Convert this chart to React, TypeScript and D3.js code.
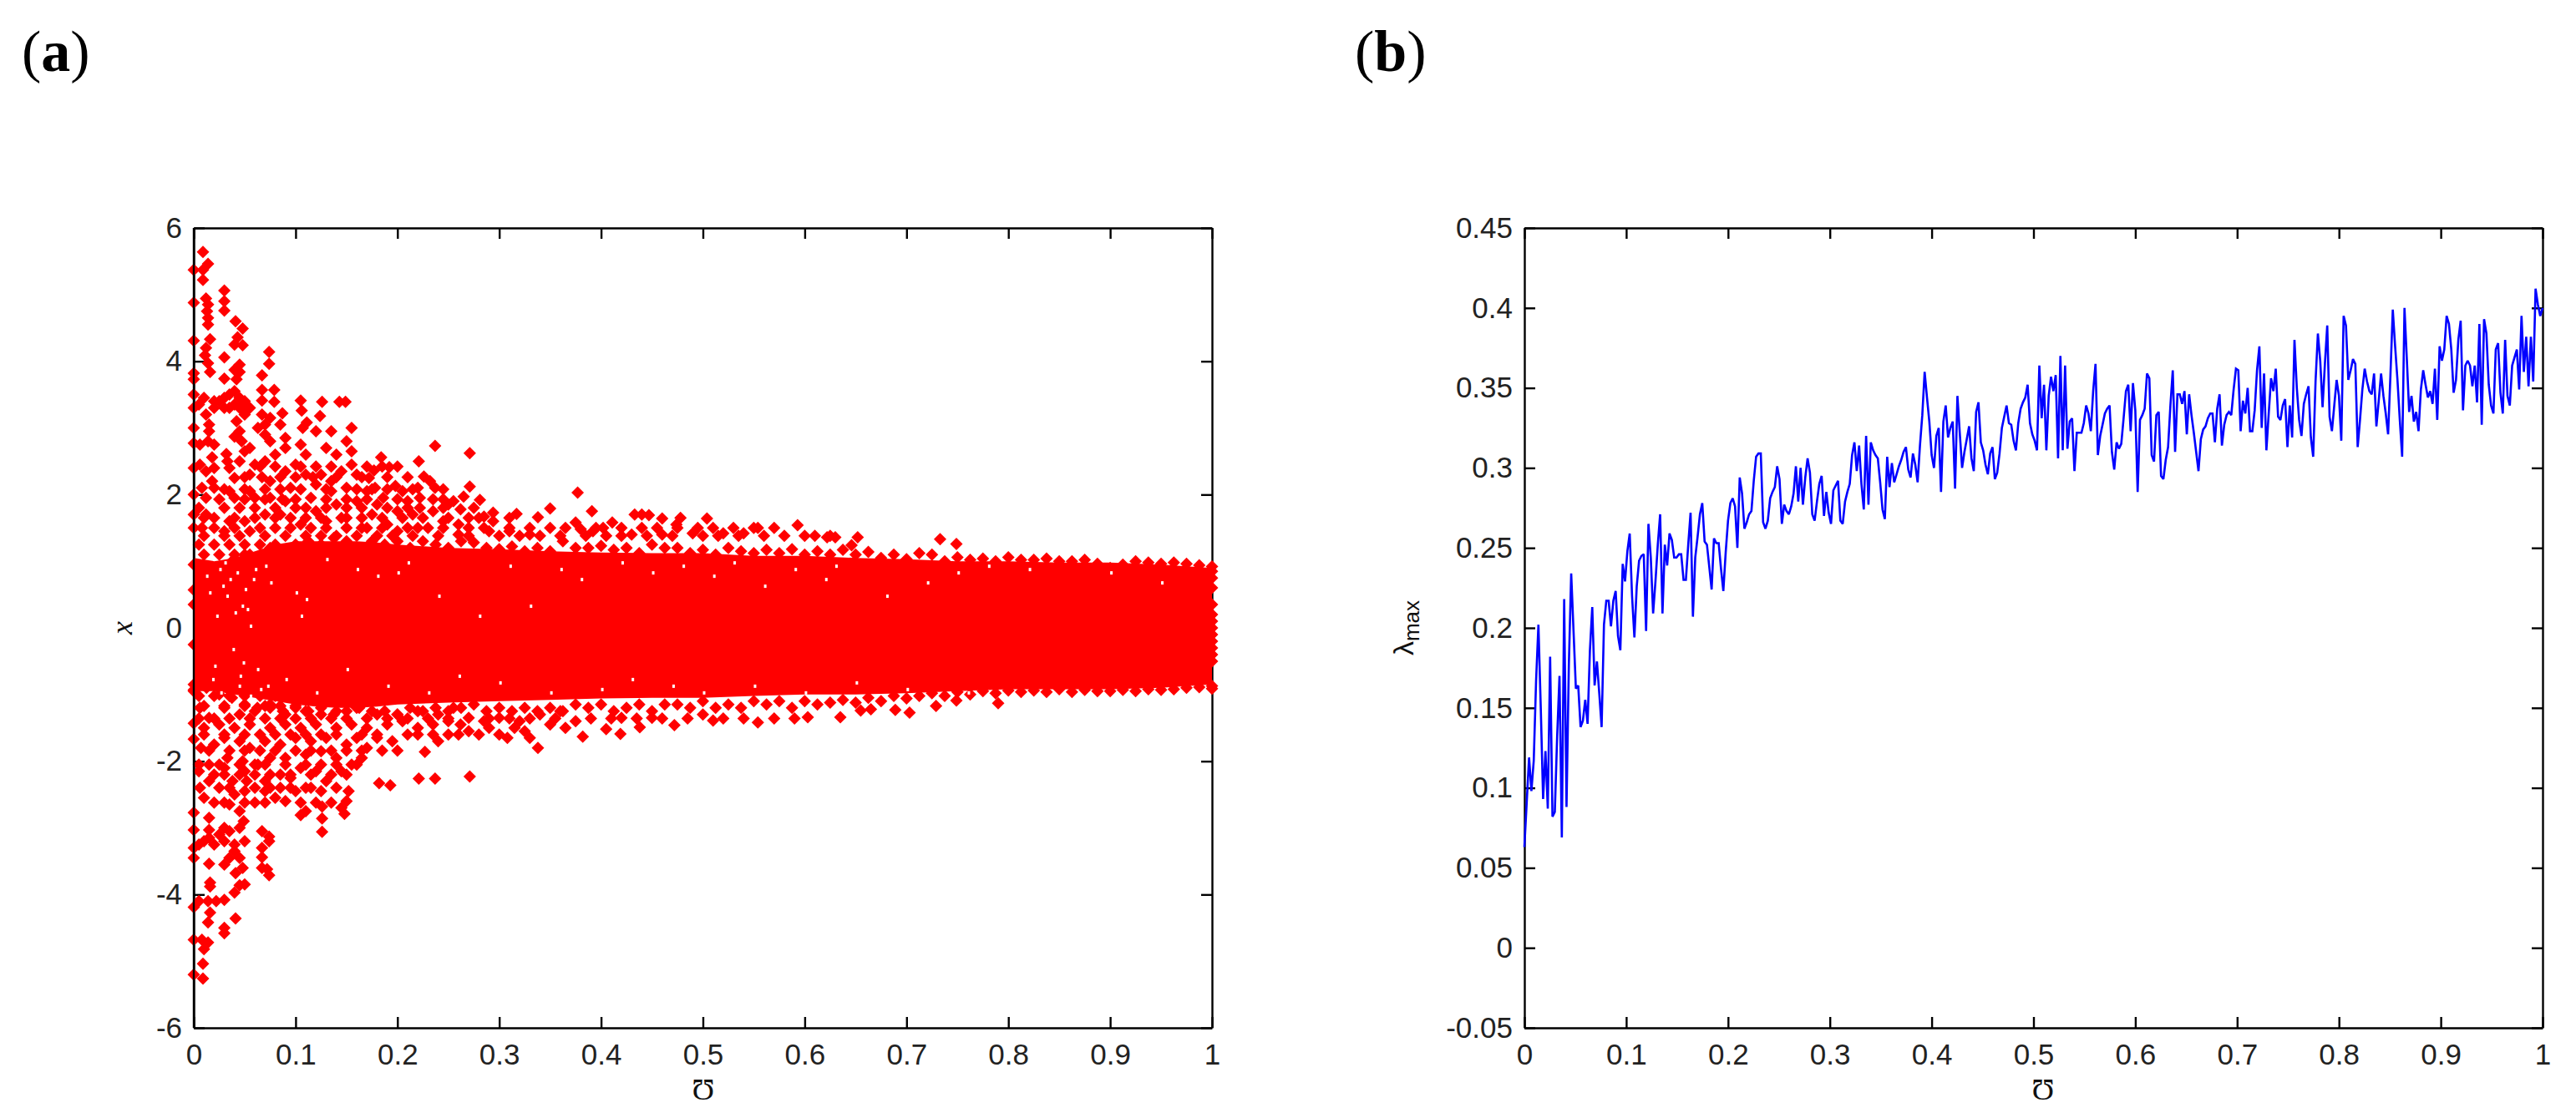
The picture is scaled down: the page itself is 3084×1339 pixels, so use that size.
import React, { useEffect, useRef } from 'react';
import * as d3 from 'd3';

// panel (a): solid middle of the band
const coreX = [0, .02, .04, .06, .08, .1, .12, .14, .16, .18, .2, .25, .3, .35, .4, .45, .5, .55, .6, .65, .7, .75, .8, .85, .9, .95, 1];
const coreUpper = [1.05, 1.0, 1.05, 1.15, 1.25, 1.3, 1.3, 1.3, 1.3, 1.28, 1.25, 1.2, 1.18, 1.15, 1.13, 1.12, 1.12, 1.08, 1.08, 1.05, 1.03, 1.0, 1.0, .98, .98, .95, .9];
const coreLower = [-.95, -.95, -1.0, -1.05, -1.1, -1.15, -1.18, -1.2, -1.2, -1.18, -1.15, -1.12, -1.1, -1.08, -1.06, -1.05, -1.05, -1.02, -1.0, -1.0, -.98, -.95, -.92, -.92, -.92, -.9, -.85];

// markers along the band edge, evenly spread over x
const topEdge = [.95, .85, .9, 1.0, 1.1, 1.05, 1.2, 1.15, 1.25, 1.3, 1.25, 1.35, 1.3, 1.2, 1.3, 1.25, 1.3, 1.2, 1.3, 1.25, 1.2, 1.3, 1.28, 1.2, 1.18, 1.22, 1.15, 1.2, 1.15, 1.3, 1.2, 1.2, 1.23, 1.17, 1.2, 1.12, 1.25, 1.2, 1.2, 1.12, 1.17, 1.1, 1.2, 1.15, 1.12, 1.17, 1.12, 1.18, 1.1, 1.15, 1.1, 1.17, 1.1, 1.14, 1.05, 1.1, 1.03, 1.12, 1.1, 1.0, 1.06, 1.02, 1.04, 1.0, 1.06, 1.02, 1.02, 1.04, 1.0, 1.0, 1.02, .96, .9, .95, 1.0, .98, .96, .98, .96, .94, .92];
const bottomEdge = [-.95, -.9, -1, -1.05, -1.15, -1.2, -1.2, -1.25, -1.2, -1.25, -1.2, -1.3, -1.25, -1.2, -1.25, -1.25, -1.3, -1.2, -1.25, -1.2, -1.25, -1.2, -1.15, -1.25, -1.2, -1.25, -1.2, -1.25, -1.2, -1.25, -1.15, -1.2, -1.15, -1.25, -1.2, -1.15, -1.25, -1.15, -1.15, -1.2, -1.1, -1.2, -1.15, -1.2, -1.1, -1.15, -1.1, -1.2, -1.1, -1.15, -1.12, -1.08, -1.12, -1.05, -1.1, -1.02, -1.06, -1.02, -.98, -1.02, -.96, -1.0, -.95, -.98, -.94, -.96, -.94, -.96, -.92, -.96, -.93, -.95, -.95, -.93, -.95, -.92, -.93, -.92, -.9, -.89, -.87];

const rightColumn = [.85, .75, .6, .35, .2, .1, 0, -.1, -.2, -.3, -.4, -.5, -.91];
const leftColumn = [.57, .35, -.25, -.85, -.93, -1.43, -1.67];

const sparseUpper = [
  [0, 5.37], [.009, 5.37], [.014, 5.46], [.009, 5.64], [.009, 5.22], [.03, 5.06], [.03, 4.9], [.03, 4.76], [0, 4.88], [.012, 4.94], [.014, 4.85], [.013, 4.75], [.014, 4.65], [.014, 4.55],
  [.041, 4.6], [.048, 4.49], [.043, 4.36], [.048, 4.24], [.04, 4.25], [0, 4.31], [.016, 4.33], [.012, 4.2], [.011, 4.09], [.014, 3.97], [.016, 3.84], [.03, 4.06], [.074, 4.14], [.074, 3.96],
  [0, 3.82], [0, 3.73], [.045, 3.95], [.04, 3.87], [.045, 3.84], [.042, 3.73], [.03, 3.74], [.067, 3.79], [.067, 3.57], [.079, 3.57], [.067, 3.41], [.079, 3.39],
  [.105, 3.41], [.126, 3.39], [.143, 3.39], [.149, 3.39], [.106, 3.26], [.124, 3.18], [.111, 3.08], [.087, 3.22],
  [.025, 3.4], [.03, 3.45], [.035, 3.5], [.04, 3.55], [.045, 3.45], [.05, 3.4], [.055, 3.3], [.035, 3.3], [.04, 3.35], [.03, 3.3], [.045, 3.3], [.05, 3.2], [.02, 3.4], [.01, 3.45], [.005, 3.35], [.012, 3.2], [.015, 3.05], [.02, 3.3],
  [0, 3.5], [0, 3.3], [0, 3.0], [0, 2.77], [0, 2.4], [0, 2.0], [0, 1.7], [0, 1.5],
  [.015, 2.95], [.014, 2.8], [.02, 2.75], [.006, 2.75], [.018, 2.56], [.032, 2.61], [.033, 2.5], [.042, 3.1], [.045, 2.95], [.047, 2.8], [.04, 2.87], [.05, 2.65], [.055, 2.7], [.045, 2.5],
  [.067, 3.2], [.07, 3.05], [.075, 3.15], [.063, 3.0], [.07, 2.9], [.075, 2.8], [.085, 3.05], [.09, 2.85], [.09, 2.7], [.08, 2.6], [.07, 2.5],
  [.107, 3.0], [.105, 2.75], [.11, 2.6], [.12, 2.95], [.135, 2.95], [.155, 3.0], [.15, 2.8], [.155, 2.65], [.13, 2.7], [.14, 2.6], [.155, 2.45], [.16, 2.3],
  [.006, 2.45], [.012, 2.35], [.018, 2.2], [.02, 2.1], [.008, 2.1], [.012, 1.95], [.02, 2.4], [.035, 2.4], [.04, 2.25], [.055, 2.3], [.06, 2.45], [.035, 2.05], [.04, 1.95], [.055, 2.05], [.06, 1.95],
  [.075, 2.2], [.09, 2.35], [.1, 2.45], [.11, 2.3], [.095, 2.1], [.09, 1.9], [.075, 1.95], [.12, 2.15], [.125, 2.3], [.135, 2.2], [.145, 2.35], [.15, 2.1], [.135, 2.05], [.115, 1.95], [.1, 1.8], [.085, 1.7], [.07, 1.7],
  [.012, 1.7], [.02, 1.65], [.008, 1.5], [.035, 1.6], [.05, 1.6], [.03, 1.45], [.055, 1.45], [.12, 1.75], [.14, 1.85], [.16, 1.9], [.17, 2.05], [.18, 1.85], [.13, 1.6], [.15, 1.65], [.175, 1.7], [.2, 1.75], [.19, 1.55], [.17, 1.5], [.105, 1.55], [.2, 1.45], [.23, 1.5], [.245, 1.6], [.26, 1.55],
  [.184, 2.56], [.177, 2.36], [.192, 2.41], [.172, 2.25], [.178, 2.1], [.186, 1.95], [.198, 2.13], [.205, 2.05], [.21, 1.9], [.221, 2.5], [.226, 2.27], [.232, 2.2], [.237, 2.1], [.237, 2.73], [.271, 2.62], [.271, 2.12], [.265, 1.97], [.255, 1.9], [.25, 1.85], [.262, 1.78], [.281, 1.92],
  [.22, 2.1], [.222, 1.95], [.222, 1.8], [.215, 1.7], [.235, 1.75], [.27, 1.65], [.285, 1.67], [.294, 1.73], [.294, 1.6], [.29, 1.45], [.26, 1.4], [.31, 1.45], [.33, 1.4], [.317, 1.71], [.338, 1.66], [.35, 1.79], [.377, 2.03], [.391, 1.75], [.375, 1.58], [.38, 1.48], [.392, 1.45], [.411, 1.58], [.402, 1.5],
  [.433, 1.7], [.44, 1.7], [.447, 1.69], [.46, 1.64], [.478, 1.65], [.474, 1.55], [.504, 1.64], [.51, 1.5], [.43, 1.4], [.46, 1.4], [.49, 1.42], [.52, 1.42], [.54, 1.42], [.554, 1.5], [.593, 1.54], [.622, 1.36], [.63, 1.36], [.646, 1.24], [.652, 1.36], [.733, 1.33], [.749, 1.26],
];

const sparseLower = [
  [.009, -5.26], [0, -5.2], [.009, -5.04], [.01, -4.82], [.014, -4.72], [.008, -4.68], [0, -4.68], [.03, -4.58], [.03, -4.5], [.041, -4.36], [.03, -4.08], [.014, -4.42], [.016, -4.27], [.014, -4.1], [.005, -4.1], [0, -4.19], [.022, -4.1],
  [.045, -3.86], [.04, -3.97], [.05, -3.85], [.016, -3.82], [.016, -3.88], [.074, -3.71], [.067, -3.6], [.072, -3.62], [.067, -3.44], [.067, -3.3], [.074, -3.2], [.067, -3.05], [.074, -3.13],
  [.015, -3.54], [.041, -3.68], [.048, -3.6], [.03, -3.55], [.105, -2.81], [.11, -2.75], [.126, -2.68], [.126, -2.86], [.126, -3.06], [.148, -2.79], [.15, -2.6], [.152, -2.45], [.145, -2.7],
  [.015, -3.15], [.025, -3.1], [.035, -3.05], [.045, -3.0], [.05, -3.2], [.04, -3.25], [.03, -3.2], [.04, -3.35], [.035, -3.45], [.045, -3.45], [.02, -3.25], [.01, -3.2], [.005, -3.25],
  [0, -2.77], [0, -3.03], [0, -3.3], [0, -3.45], [.015, -2.85], [.015, -3.03], [.03, -3.0], [.049, -2.9], [.045, -2.75], [.04, -2.5], [.035, -2.65], [.038, -2.3],
  [.006, -2.4], [.015, -2.3], [.02, -2.2], [.01, -2.55], [.005, -2.15], [.015, -2.05], [.05, -2.45], [.052, -2.3], [.05, -2.15], [.048, -2.0], [.03, -2.1], [.033, -1.95], [.07, -2.45], [.08, -2.55], [.085, -2.4], [.09, -2.6], [.1, -2.45], [.07, -2.3], [.085, -2.2], [.095, -2.25], [.11, -2.4], [.125, -2.45], [.13, -2.3], [.12, -2.15], [.105, -2.1], [.145, -2.15], [.155, -2.05], [.14, -1.95], [.165, -1.95],
  [.063, -2.05], [.075, -1.95], [.09, -1.95], [.11, -1.9], [.125, -1.85], [.17, -1.8], [.182, -2.33], [.193, -2.36], [.221, -2.26], [.237, -2.26], [.271, -2.23], [.18, -1.65], [.195, -1.7], [.21, -1.6], [.227, -1.86], [.24, -1.7], [.25, -1.6],
  [.007, -1.8], [.02, -1.75], [.03, -1.65], [.045, -1.7], [.055, -1.8], [.07, -1.7], [.085, -1.75], [.1, -1.65], [.115, -1.7], [.13, -1.65], [.15, -1.75], [.16, -1.65], [.01, -1.5], [.025, -1.45], [.04, -1.5], [.055, -1.45], [.075, -1.5], [.09, -1.45], [.105, -1.5], [.12, -1.45], [.14, -1.5], [.155, -1.45], [.17, -1.5], [.19, -1.45], [.205, -1.4], [.22, -1.5], [.235, -1.45], [.25, -1.4],
  [.006, -1.2], [.015, -1.35], [.03, -1.2], [.045, -1.3], [.06, -1.25], [.075, -1.15], [.09, -1.3], [.11, -1.25], [.125, -1.3], [.14, -1.25], [.16, -1.2], [.18, -1.3], [.2, -1.3], [.22, -1.25], [.24, -1.3], [.255, -1.2], [.27, -1.35], [.285, -1.4], [.3, -1.35], [.32, -1.4], [.34, -1.3], [.36, -1.25], [.375, -1.4],
  [.27, -1.55], [.262, -1.45], [.29, -1.5], [.308, -1.65], [.315, -1.5], [.325, -1.55], [.338, -1.8], [.33, -1.65], [.35, -1.45], [.365, -1.5], [.382, -1.63], [.405, -1.52], [.419, -1.59], [.438, -1.49], [.472, -1.46], [.51, -1.39], [.42, -1.35], [.45, -1.35], [.5, -1.3], [.554, -1.42], [.603, -1.34], [.635, -1.34], [.655, -1.24], [.665, -1.22], [.689, -1.23], [.703, -1.27], [.729, -1.17], [.749, -1.09], [.79, -1.13],
];

// rows of markers that thicken the left part, y first then its x values
const upperRows: [number, number[]][] = [
  [2.42, [.065, .08, .105, .12, .135, .17, .185, .2]],
  [2.26, [.05, .067, .085, .1, .117, .14, .165, .19, .21]],
  [2.08, [.03, .05, .07, .085, .105, .13, .16, .175, .19, .215, .245]],
  [1.93, [.025, .05, .07, .087, .1, .13, .15, .17, .2, .235, .245]],
  [1.8, [.005, .03, .045, .06, .08, .11, .13, .15, .165, .19, .21, .245, .275]],
  [1.65, [.01, .04, .06, .08, .095, .11, .125, .145, .165, .185, .205, .225, .25, .28, .31]],
  [1.5, [.02, .04, .065, .08, .095, .115, .13, .15, .165, .185, .21, .22, .245, .27, .285, .31, .33, .35, .365, .395, .42, .44, .455, .475, .495, .53, .55, .57]],
  [1.38, [.01, .03, .045, .07, .09, .11, .125, .14, .16, .18, .195, .215, .24, .27, .3, .32, .34, .36, .385, .405, .42, .445, .47, .5, .515, .535, .56, .58, .6, .61, .625]],
  [1.25, [.005, .02, .035, .05, .065, .08]],
  [1.1, [.01, .025, .04, .055, .07]],
];
const lowerRows: [number, number[]][] = [
  [-1.02, [.005, .02, .035, .05, .065, .08]],
  [-1.17, [.01, .03, .05, .07, .085, .1]],
  [-1.36, [.005, .02, .035, .055, .07, .085, .1, .115, .135, .15, .17, .19, .21, .23, .25, .29, .31, .33, .355, .39, .41, .435, .46, .485, .52, .54, .57, .59]],
  [-1.6, [.01, .03, .05, .065, .08, .095, .11, .125, .14, .165, .18, .22, .235, .26, .28, .3]],
  [-1.84, [.015, .035, .05, .065, .08, .1, .115, .135, .15, .165, .185, .2]],
  [-2.05, [.005, .025, .045, .06, .07, .09, .11, .125, .14, .16]],
  [-2.2, [.03, .045, .06, .075, .095, .115, .135, .15]],
  [-2.4, [.025, .035, .06, .075, .095, .115, .14]],
  [-2.62, [.02, .03, .05, .06, .07, .105, .12, .135]],
];

// little white gaps left in the solid band
const gapX = [.03, .035, .032, .04, .05, .052, .055, .06, .07, .075, .1, .11, .105, .13, .16, .18, .2, .21, .24, .28, .31, .33, .36, .38, .42, .45, .48, .51, .53, .56, .59, .62, .63, .68, .72, .75, .78, .82, .9, .95, .02, .045, .065, .09, .12, .15, .19, .23, .26, .3, .35, .4, .43, .47, .5, .55, .6, .65, .7, .76, .025, .028, .042, .047, .058, .012, .015, .022, .038, .048, .062, .072, .018, .026, .044, .055];
const gapY = [1.0, .75, .5, .25, .6, .3, .05, .9, .95, .7, .55, .45, .2, 1.05, .9, .8, .85, 1.0, .5, .2, .95, .35, .9, .75, 1.0, .85, .95, .8, 1.0, .65, .9, .75, .95, .5, .7, .85, .95, .9, .85, .7, -.55, -.7, -.9, -.75, -.95, -.6, -.85, -.95, -.7, -.8, -.95, -.9, -.75, -.85, -.95, -.85, -.95, -.8, -.9, -.95, .9, .65, .85, .35, .75, .8, .55, .2, -.3, -.5, -.6, -.85, -.75, -.95, -.85, -1.0];

const xTicksA = [0, .1, .2, .3, .4, .5, .6, .7, .8, .9, 1];
const yTicksA = [-6, -4, -2, 0, 2, 4, 6];
const yTicksB = [-.05, 0, .05, .1, .15, .2, .25, .3, .35, .4, .45];

// panel (b): lambda_max, one value per sample over x = 0..1
const lambdaMax = [
  .063, .091, .119, .098, .117, .167, .202, .150, .093, .123, .087, .182, .082, .085, .132, .170, .069, .218, .088, .177,
  .234, .198, .162, .164, .138, .142, .155, .140, .186, .213, .164, .179, .159, .138, .202, .217, .217, .201, .217, .223,
  .195, .186, .240, .229, .248, .259, .220, .194, .226, .242, .245, .246, .198, .265, .244, .209, .229, .252, .271, .209,
  .252, .239, .259, .255, .244, .244, .246, .246, .230, .230, .252, .272, .207, .244, .257, .271, .278, .254, .252, .238,
  .224, .256, .253, .253, .237, .223, .247, .267, .278, .281, .276, .250,
  .294, .284, .262, .266, .271, .273, .292, .307, .309, .309, .266, .262, .267, .281, .285, .288, .301, .293, .265, .277,
  .273, .271, .276, .284, .301, .279, .300, .277, .294, .306, .297, .271, .267, .279, .290, .295, .270, .285, .272, .265,
  .286, .289, .292, .267, .265, .279, .285, .290,
  .308, .316, .298, .314, .290, .274, .320, .277, .316, .311, .308, .306, .291, .274, .268, .307, .288, .303, .291, .296,
  .301, .305, .310, .313, .299, .294, .309, .302, .291, .314, .333, .360, .344, .329, .308, .300, .320, .325, .285, .329,
  .339, .319, .325, .329, .287, .345, .322, .300, .310, .318, .326, .306, .298, .335, .341, .316, .311, .302, .296, .309,
  .313, .293, .297, .309, .325, .332, .339, .328, .327, .317, .311, .328, .337, .341, .344, .352, .328, .321, .317, .311,
  .364, .331, .352, .311, .345, .357, .348, .358, .306, .370, .311, .364, .312, .329, .331,
  .298, .322, .322, .322, .328, .339, .334, .323, .348, .365, .308, .320, .327, .334, .337, .339, .310, .299, .316, .312,
  .315, .331, .348, .352, .323, .353, .336, .285, .330, .333, .337, .359, .356, .308, .304, .333, .335, .295, .293, .305,
  .313, .339, .361, .310, .346, .346, .340, .348, .321, .346, .333, .322, .310, .298, .318, .324, .326, .331, .334, .334,
  .316, .337, .346, .314, .327, .333, .335, .333, .349, .362, .361, .323, .342, .334, .350, .323, .323, .336, .361, .376,
  .325, .359, .311, .334, .356, .348, .362, .332, .330, .339, .343, .313, .339, .319, .380, .350, .330, .320, .340, .346,
  .351, .319, .307, .354, .384, .367, .338, .365, .389, .332, .323, .339, .355, .345, .317, .395, .389, .355, .361, .368,
  .365, .313, .330, .349, .362, .354, .348, .346, .359, .326, .342, .359, .345, .334, .321, .358, .399, .376, .355, .330,
  .307, .400, .368, .335, .345, .329, .335, .323, .349, .361, .352, .344, .348, .340, .362, .330, .376, .367, .374, .395,
  .390, .374, .347, .355, .380, .392, .336, .364, .367, .364, .351, .364, .341, .390, .327, .393, .384, .352, .339, .334,
  .374, .378, .347, .334, .380, .345, .339, .364, .369, .374, .349, .395, .360, .382, .351, .382, .354, .412, .402, .395, .400,
];

const width = 3084;
const height = 1339;
const xLeftA = 232;
const xLeftB = 1825;
const plotW = 1219;
const plotTop = 273;
const plotBottom = 1231;
const tickFont = '"Liberation Sans", Arial, sans-serif';

const fmt = (d: number) => String(+d.toFixed(2));

const App = () => {
  const svgRef = useRef<SVGSVGElement>(null);

  useEffect(() => {
    const svg = d3.select(svgRef.current);
    svg.selectAll('*').remove();

    const drawAxes = (left: number, y: d3.ScaleLinear<number, number>, yTicks: number[], x: d3.ScaleLinear<number, number>) => {
      const g = svg.append('g');
      const ax = (gen: any, tx: number, ty: number) => {
        const a = g.append('g').attr('transform', `translate(${tx},${ty})`).call(gen);
        a.selectAll('path,line').attr('stroke', '#000').attr('stroke-width', 2.4);
        a.selectAll('text').attr('font-family', tickFont).attr('font-size', 35).attr('fill', '#222');
        return a;
      };
      ax(d3.axisBottom(x).tickValues(xTicksA).tickSizeInner(-13).tickSizeOuter(0).tickPadding(19).tickFormat(fmt as any), 0, plotBottom);
      ax(d3.axisTop(x).tickValues(xTicksA).tickSizeInner(-13).tickSizeOuter(0).tickFormat(() => ''), 0, plotTop);
      ax(d3.axisLeft(y).tickValues(yTicks).tickSizeInner(-13).tickSizeOuter(0).tickPadding(14).tickFormat(fmt as any), left, 0);
      ax(d3.axisRight(y).tickValues(yTicks).tickSizeInner(-13).tickSizeOuter(0).tickFormat(() => ''), left + plotW, 0);
    };

    // panel (a)
    const xA = d3.scaleLinear().domain([0, 1]).range([xLeftA, xLeftA + plotW]);
    const yA = d3.scaleLinear().domain([-6, 6]).range([plotBottom, plotTop]);
    drawAxes(xLeftA, yA, yTicksA, xA);

    const band = d3.area<number>()
      .x((d, i) => xA(coreX[i]))
      .y0((d, i) => yA(coreLower[i]))
      .y1(d => yA(d));
    svg.append('path').attr('d', band(coreUpper)).attr('fill', '#ff0000');

    const edgeX = (i: number, n: number) => i / (n - 1);
    const fromRows = (rows: [number, number[]][]) => rows.flatMap(([y, xs]) => xs.map(x => [x, y]));
    const points = [
      ...sparseUpper,
      ...sparseLower,
      ...fromRows(upperRows),
      ...fromRows(lowerRows),
      ...topEdge.map((v, i) => [edgeX(i, topEdge.length), v]),
      ...bottomEdge.map((v, i) => [edgeX(i, bottomEdge.length), v]),
      ...rightColumn.map(v => [1, v]),
      ...leftColumn.map(v => [0, v]),
    ];
    svg.append('g').selectAll('path')
      .data(points)
      .enter().append('path')
      .attr('d', 'M0,-7.5L2,-5.5L5.5,-2L7.5,0L5.5,2L2,5.5L0,7.5L-2,5.5L-5.5,2L-7.5,0L-5.5,-2L-2,-5.5Z')
      .attr('transform', d => `translate(${xA(d[0])},${yA(d[1])})`)
      .attr('fill', '#ff0000');

    svg.append('g').selectAll('rect')
      .data(gapX)
      .enter().append('rect')
      .attr('x', d => xA(d))
      .attr('y', (d, i) => yA(gapY[i]))
      .attr('width', 3)
      .attr('height', 4)
      .attr('fill', '#fff');

    svg.append('line')
      .attr('x1', xLeftA).attr('x2', xLeftA)
      .attr('y1', plotTop).attr('y2', plotBottom)
      .attr('stroke', '#000').attr('stroke-width', 2.4);

    // panel (b)
    const xB = d3.scaleLinear().domain([0, 1]).range([xLeftB, xLeftB + plotW]);
    const yB = d3.scaleLinear().domain([-.05, .45]).range([plotBottom, plotTop]);
    drawAxes(xLeftB, yB, yTicksB, xB);

    const line = d3.line<number>()
      .x((d, i) => xB(i / (lambdaMax.length - 1)))
      .y(d => yB(d));
    svg.append('path')
      .attr('d', line(lambdaMax))
      .attr('fill', 'none')
      .attr('stroke', '#0000ff')
      .attr('stroke-width', 2.6)
      .attr('stroke-linejoin', 'miter')
      .attr('stroke-miterlimit', 2);

    // axis titles
    const serif = '"Liberation Serif", "DejaVu Serif", serif';
    [842, 2446].forEach(cx => {
      svg.append('text').attr('x', cx).attr('y', 1317).attr('text-anchor', 'middle')
        .attr('font-family', serif).attr('font-size', 36).attr('fill', '#111').text('\u01B1');
    });
    svg.append('text')
      .attr('transform', 'translate(158,752) rotate(-90)')
      .attr('text-anchor', 'middle')
      .attr('font-family', serif).attr('font-style', 'italic').attr('font-size', 36).attr('fill', '#111')
      .text('x');
    const lam = svg.append('text')
      .attr('transform', 'translate(1692,752) rotate(-90)')
      .attr('text-anchor', 'middle')
      .attr('font-family', tickFont).attr('fill', '#111');
    lam.append('tspan').attr('font-size', 34).text('\u03BB');
    lam.append('tspan').attr('font-size', 26).attr('dy', 7).text('max');

    // panel letters
    [['a', 26], ['b', 22 + 1600]].forEach(([letter, lx]) => {
      const t = svg.append('text').attr('x', lx as number).attr('y', 85)
        .attr('font-family', serif).attr('font-size', 70).attr('fill', '#000');
      t.append('tspan').text('(');
      t.append('tspan').attr('font-weight', 'bold').text(letter as string);
      t.append('tspan').text(')');
    });
  }, []);

  return (
    <svg
      ref={svgRef}
      width={width}
      height={height}
      style={{ position: 'absolute', left: 0, top: 0, background: '#fff' }}
    />
  );
};

export default App;
